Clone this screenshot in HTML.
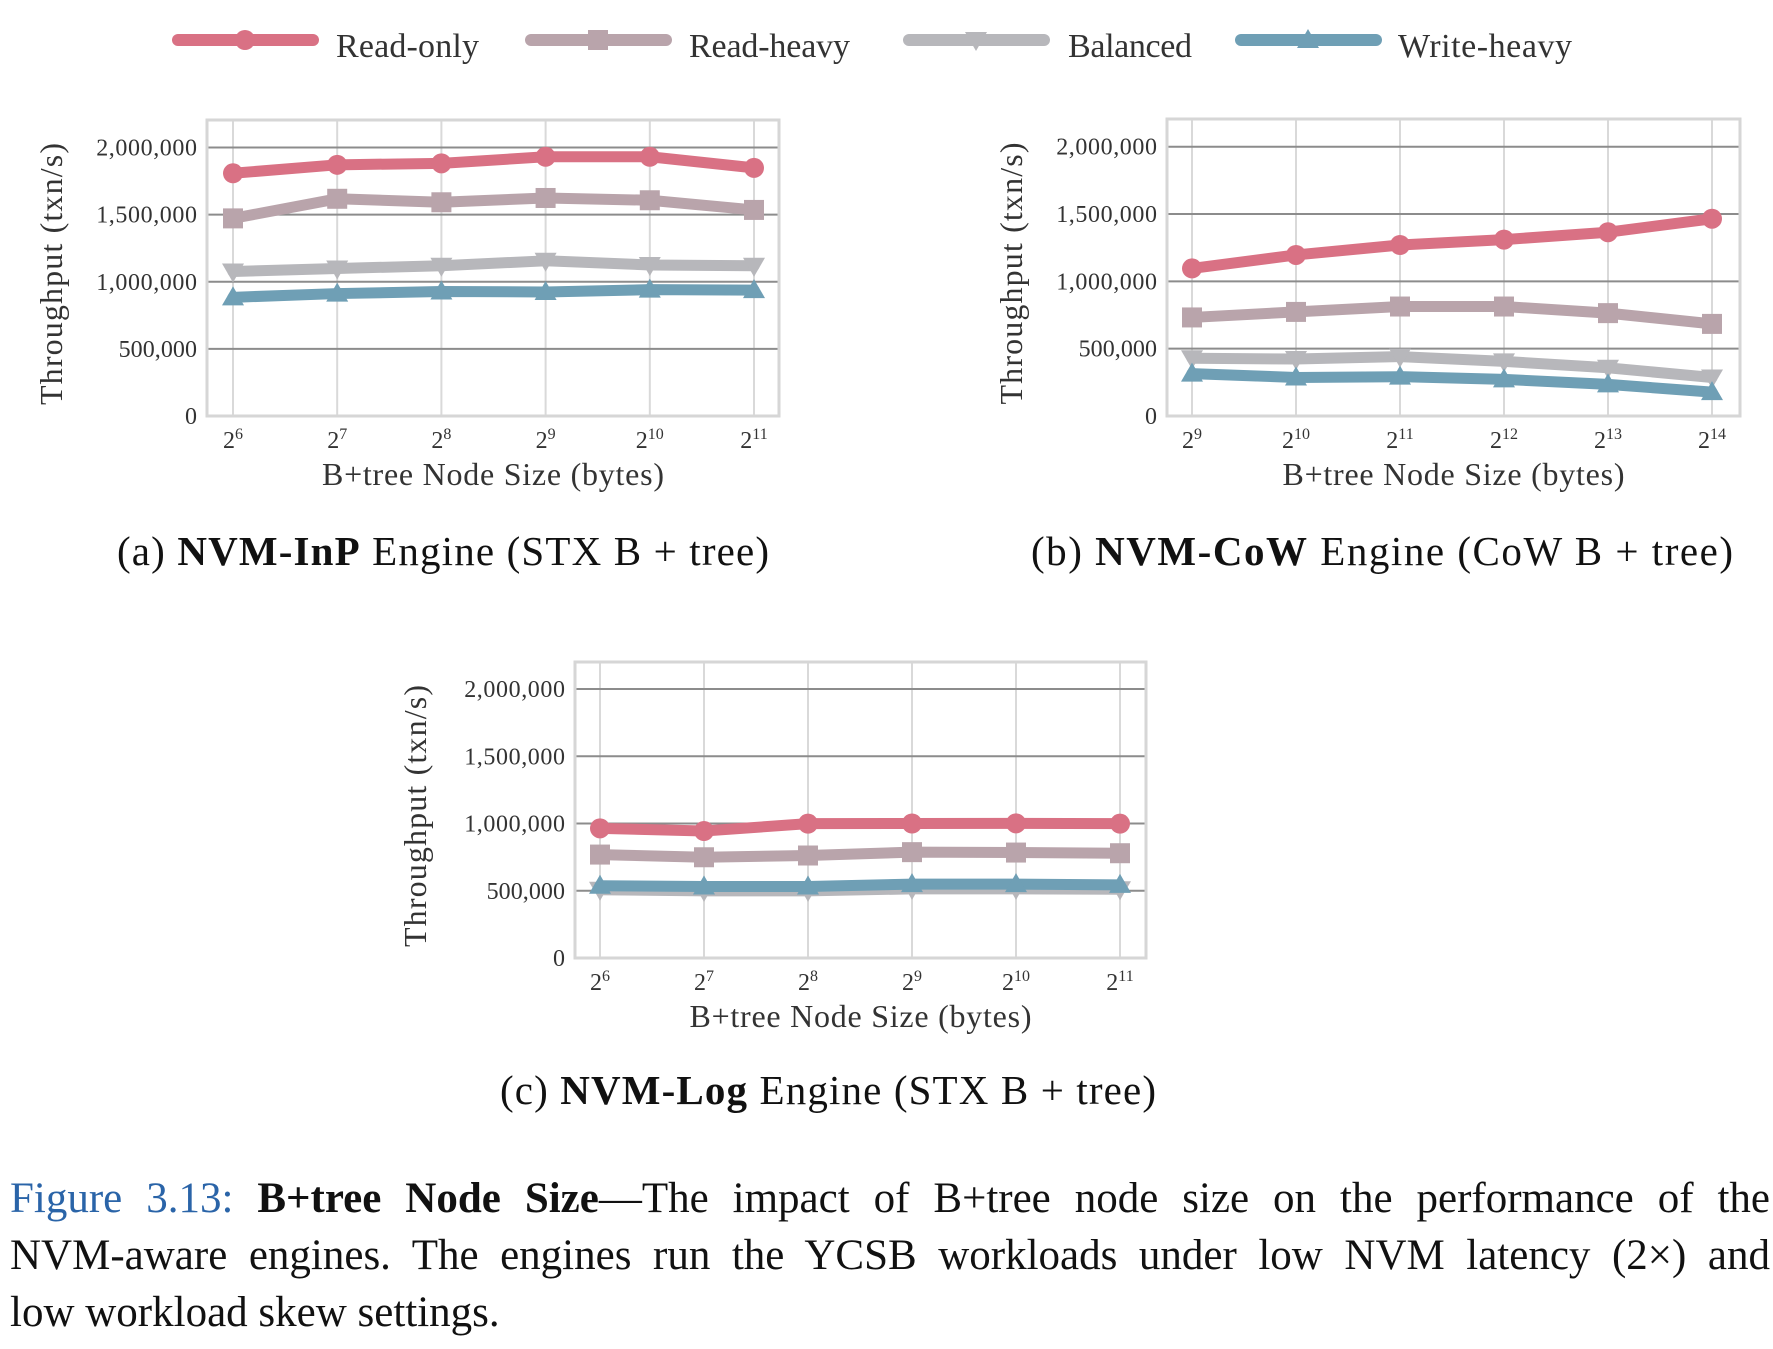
<!DOCTYPE html>
<html><head><meta charset="utf-8">
<style>
html,body{margin:0;padding:0;background:#fff;}
body{width:1773px;height:1349px;position:relative;overflow:hidden;font-family:"Liberation Serif",serif;color:#222;}
svg{position:absolute;left:0;top:0;}
#fig-caption{position:absolute;left:10px;top:1170px;width:1760px;font-size:43px;line-height:57px;color:#111;}
#fig-caption .ln{text-align:justify;text-align-last:justify;white-space:nowrap;}
#fig-caption .ln.last{text-align-last:left;}
#fig-caption .lbl{color:#2a64a8;}
</style></head><body>
<svg id="chart" width="1773" height="1349" xmlns="http://www.w3.org/2000/svg" font-family="Liberation Serif, serif"></svg>
<div id="fig-caption">
<div class="ln"><span class="lbl">Figure 3.13:</span> <b>B+tree Node Size</b>—The impact of B+tree node size on the performance of the</div>
<div class="ln">NVM-aware engines. The engines run the YCSB workloads under low NVM latency (2×) and</div>
<div class="ln last">low workload skew settings.</div>
</div>
<script>
const seriesNames = ["Read-only","Read-heavy","Balanced","Write-heavy"];
const yTicks = [0,500000,1000000,1500000,2000000];
const yTickLabels = ["0","500,000","1,000,000","1,500,000","2,000,000"];
const expA = [6,7,8,9,10,11];
const expB = [9,10,11,12,13,14];
const expC = [6,7,8,9,10,11];
const aReadOnly = [1808000,1871000,1882000,1931000,1931000,1848000];
const aReadHeavy = [1472000,1618000,1592000,1624000,1607000,1535000];
const aBalanced = [1076000,1099000,1119000,1156000,1125000,1119000];
const aWriteHeavy = [884000,912000,927000,924000,941000,938000];
const bReadOnly = [1096000,1196000,1270000,1310000,1365000,1465000];
const bReadHeavy = [732000,773000,813000,813000,764000,684000];
const bBalanced = [429000,423000,441000,406000,358000,286000];
const bWriteHeavy = [315000,286000,292000,272000,235000,177000];
const cReadOnly = [964000,944000,999000,1000000,1001000,999000];
const cReadHeavy = [769000,749000,762000,787000,784000,779000];
const cBalanced = [507000,499000,499000,514000,514000,511000];
const cWriteHeavy = [537000,532000,532000,549000,549000,544000];

const colors = ["#d97184","#b9a4ab","#b7b7bb","#6f9fb5"];
const markers = ["circle","square","tridown","triup"];
const NS="http://www.w3.org/2000/svg";
const svg=document.getElementById('chart');
function mk(tag,attrs,parent){const e=document.createElementNS(NS,tag);for(const k in attrs)e.setAttribute(k,attrs[k]);(parent||svg).appendChild(e);return e;}
function marker(g,type,x,y,c){
  let e;
  if(type==="circle") e=mk('circle',{cx:x,cy:y,r:10,fill:c},g);
  else if(type==="square") e=mk('rect',{x:x-10,y:y-10,width:20,height:20,fill:c},g);
  else if(type==="tridown") e=mk('polygon',{points:`${x-11},${y-8} ${x+11},${y-8} ${x},${y+11}`,fill:c},g);
  else e=mk('polygon',{points:`${x-11},${y+8} ${x+11},${y+8} ${x},${y-11}`,fill:c},g);
  
  
}
function panel(id,cfg,exps,data,caption,bold){
  const g=mk('g',{});
  
  
  const {L,R,T,B,x0,x1,y0,y2m}=cfg;
  const yS=v=>y0-(v/2000000)*(y0-y2m);
  const xS=i=>x0+i*(x1-x0)/(exps.length-1);
  exps.forEach((e,i)=>{const l=mk('line',{x1:xS(i),x2:xS(i),y1:T,y2:B,stroke:"#d9d9d9","stroke-width":2},g);});
  yTicks.forEach((v,i)=>{
    if(v>0){const l=mk('line',{x1:L,x2:R,y1:yS(v),y2:yS(v),stroke:"#8c8c8c","stroke-width":2},g);}
    const t=mk('text',{x:L-10,y:yS(v)+8,"text-anchor":"end","font-size":24,fill:"#333"},g);
    if(yTickLabels[i].length>1) t.setAttribute('textLength',yTickLabels[i].length*11.2);
    t.textContent=yTickLabels[i];
    
  });
  const fr=mk('rect',{x:L,y:T,width:R-L,height:B-T,fill:"none",stroke:"#d6d6d6","stroke-width":3},g);
  
  exps.forEach((e,i)=>{
    const t=mk('text',{x:xS(i),y:B+32,"text-anchor":"middle","font-size":24,fill:"#333"},g);
    t.innerHTML=`2<tspan dy="-9" font-size="16">${e}</tspan>`;
    
  });
  data.forEach((arr,si)=>{
    const pts=arr.map((v,i)=>`${xS(i)},${yS(v)}`).join(' ');
    const pl=mk('polyline',{points:pts,fill:"none",stroke:colors[si],"stroke-width":11,"stroke-linejoin":"round","stroke-linecap":"round"},g);
    
    
    arr.forEach((v,i)=>marker(g,markers[si],xS(i),yS(v),colors[si]));
  });
  const xt=mk('text',{x:(L+R)/2,y:B+69,"text-anchor":"middle","font-size":32,fill:"#333",textLength:342},g);
  xt.textContent="B+tree Node Size (bytes)";
  
  const yt=mk('text',{x:0,y:0,"text-anchor":"middle","font-size":32,fill:"#333",textLength:262,transform:`translate(${cfg.ytx},${(T+B)/2+6}) rotate(-90)`},g);
  yt.textContent="Throughput (txn/s)";
  
  const cp=mk('text',{x:cfg.capx,y:cfg.capy,"text-anchor":"middle","font-size":41,fill:"#111",textLength:cfg.capw},g);
  cp.innerHTML=`${caption[0]} <tspan font-weight="bold">${bold}</tspan> ${caption[1]}`;
  
}
panel('chart-nvm-inp',{L:207,R:779,T:120,B:416,x0:233,x1:754,y0:416,y2m:147.5,ytx:62,capx:443,capy:565,capw:652},expA,[aReadOnly,aReadHeavy,aBalanced,aWriteHeavy],["(a)","Engine (STX B + tree)"],"NVM-InP");
panel('chart-nvm-cow',{L:1167,R:1740,T:119,B:416,x0:1192,x1:1712,y0:416,y2m:146.7,ytx:1022,capx:1382,capy:565,capw:702},expB,[bReadOnly,bReadHeavy,bBalanced,bWriteHeavy],["(b)","Engine (CoW B + tree)"],"NVM-CoW");
panel('chart-nvm-log',{L:575,R:1146,T:662,B:958,x0:600,x1:1120,y0:958,y2m:689,ytx:426,capx:828,capy:1104,capw:656},expC,[cReadOnly,cReadHeavy,cBalanced,cWriteHeavy],["(c)","Engine (STX B + tree)"],"NVM-Log");

const legX=[178,531,909,1241];
const legTX=[336,689,1068,1398];
const legTW=[143,161,124,174];
seriesNames.forEach((n,i)=>{
  const g=mk('g',{});
  
  
  mk('line',{x1:legX[i],x2:legX[i]+135,y1:40,y2:40,stroke:colors[i],"stroke-width":12,"stroke-linecap":"round"},g);
  marker(g,markers[i],legX[i]+67,40,colors[i]);
  const t=mk('text',{x:legTX[i],y:57,"font-size":34,fill:"#333",textLength:legTW[i]},g);
  t.textContent=n;
  
});
</script>
</body></html>
